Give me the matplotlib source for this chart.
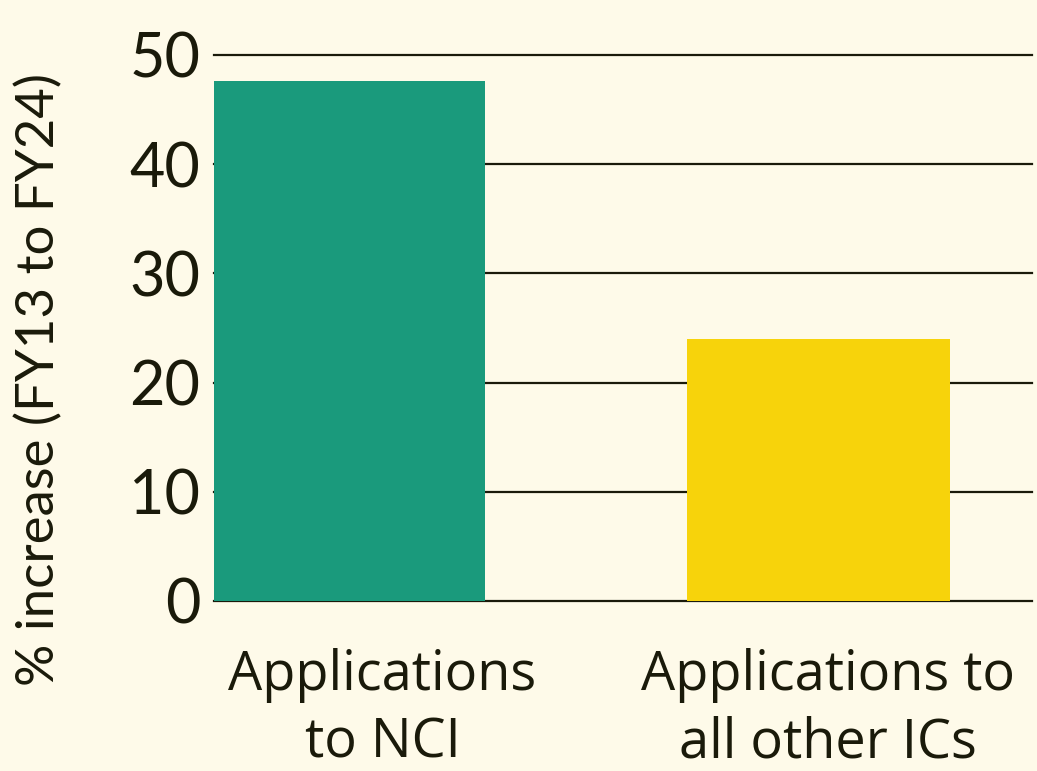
import matplotlib.pyplot as plt

categories = ['Applications\nto NCI', 'Applications to\nall other ICs']
values = [47.6, 24.0]
bar_colors = ['#1a9a7c', '#f7d30b']
yticks = [0, 10, 20, 30, 40, 50]

bg = '#fefae9'
ink = '#1a1a0a'

fig = plt.figure(figsize=(10.37, 7.71), dpi=100, facecolor=bg)
ax = fig.add_axes([0.2064, 0.2205, 0.7886, 0.7082])
ax.set_facecolor(bg)

for y in yticks:
    ax.axhline(y, color=ink, lw=1.6, zorder=1, clip_on=False)

ax.bar([0, 1], values, width=[0.578, 0.561], color=bar_colors, zorder=2)

ax.set_xlim(-0.289, 1.455)
ax.set_ylim(0, 50)
ax.set_yticks(yticks)
ax.set_yticklabels([str(t) for t in yticks], fontsize=44, family='Lato', color=ink)
ax.set_xticks([0.07, 1.02])
ax.set_xticklabels(categories, fontsize=39, family='Open Sans', color=ink,
                   linespacing=1.3)
ax.tick_params(axis='y', length=0, pad=10)
ax.tick_params(axis='x', length=0, pad=34)
for s in ax.spines.values():
    s.set_visible(False)

ax.set_ylabel('% increase (FY13 to FY24)', fontsize=38, family='Lato', color=ink)
ax.yaxis.set_label_coords(-0.184, 0.405)

fig.savefig('out.png', dpi=100, facecolor=bg)
